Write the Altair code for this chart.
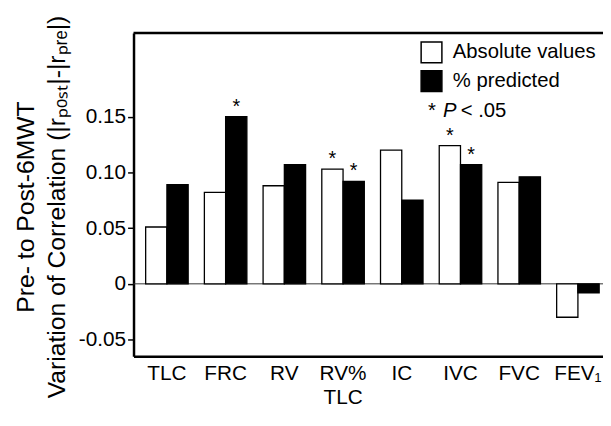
import altair as alt
import pandas as pd

categories = ["TLC", "FRC", "RV", "RV%\nTLC", "IC", "IVC", "FVC", "FEV₁"]
series_names = ["Absolute values", "% predicted"]
absolute_values = [0.051, 0.082, 0.088, 0.103, 0.120, 0.124, 0.091, -0.030]
pct_predicted = [0.089, 0.150, 0.107, 0.092, 0.075, 0.107, 0.096, -0.008]
absolute_sig = [False, False, False, True, False, True, False, False]
pct_sig = [False, True, False, True, False, True, False, False]
y_ticks = [-0.05, 0, 0.05, 0.10, 0.15]
y_title = ["Pre- to Post-6MWT", "Variation of Correlation (|rₚₒₛₜ|-|rₚᵣₑ|)"]

rows = []
for i, c in enumerate(categories):
    rows.append({"category": c, "series": series_names[0], "value": absolute_values[i], "sig": absolute_sig[i]})
    rows.append({"category": c, "series": series_names[1], "value": pct_predicted[i], "sig": pct_sig[i]})
df = pd.DataFrame(rows)
one = pd.DataFrame({"k": [0]})

W, H = 475, 327
FONT = "Liberation Sans"

x_enc = alt.X(
    "category:N", sort=categories,
    scale=alt.Scale(paddingInner=0.276, paddingOuter=0.136, align=0.76),
    axis=alt.Axis(title=None, labelAngle=0, ticks=False, labelExpr="split(datum.label, '\\n')",
                  labelFontSize=21, labelLineHeight=25, labelPadding=6, labelColor="black",
                  domainColor="black", domainWidth=2.5, labelFont=FONT),
)
xo_enc = alt.XOffset("series:N", sort=series_names, scale=alt.Scale(paddingInner=0, paddingOuter=0))
y_enc = alt.Y(
    "value:Q",
    scale=alt.Scale(domain=[-0.065, 0.225], nice=False, zero=False),
    axis=alt.Axis(values=y_ticks, grid=False, title=y_title, titleFontSize=25, titleLineHeight=31,
                  titleFontWeight="normal", titleColor="black", titleFont=FONT, titlePadding=9,
                  titleY=H / 2 + 12,
                  labelExpr="datum.value == 0 ? '0' : (datum.value < 0 ? '-' + format(-datum.value, '.2f') : format(datum.value, '.2f'))",
                  labelFontSize=21, labelColor="black", labelPadding=2, labelFont=FONT,
                  tickSize=6, tickWidth=1.5, tickColor="black",
                  domainColor="black", domainWidth=2.5),
)

bars = alt.Chart(df).mark_bar(stroke="black", strokeWidth=1.3).encode(
    x=x_enc, xOffset=xo_enc, y=y_enc,
    fill=alt.Fill("series:N", sort=series_names,
                  scale=alt.Scale(domain=series_names, range=["white", "black"]),
                  legend=alt.Legend(title=None, orient="none", legendX=290, legendY=8,
                                    symbolType="square", symbolSize=441, symbolStrokeColor="black",
                                    symbolStrokeWidth=1.5, labelFontSize=20.5, labelFont=FONT,
                                    labelColor="black", labelOffset=10, rowPadding=2, padding=0)),
)

stars = alt.Chart(df).transform_filter("datum.sig").mark_text(
    text="*", fontSize=20, font=FONT, baseline="alphabetic", dy=-4, color="black"
).encode(x=x_enc, xOffset=xo_enc, y=alt.Y("value:Q"))

zero_line = alt.Chart(one).mark_rule(color="#333", strokeWidth=1).encode(y=alt.datum(0))
top_line = alt.Chart(one).mark_rule(color="black", strokeWidth=2.5).encode(
    y=alt.value(0), x=alt.value(0), x2=alt.value(W))

note_star = alt.Chart(one).mark_text(text="*", fontSize=20.5, font=FONT, align="left",
                                     baseline="alphabetic", color="black").encode(
    x=alt.value(298), y=alt.value(85))
note_p = alt.Chart(one).mark_text(text="P", fontSize=20.5, font=FONT, fontStyle="italic", align="left",
                                  baseline="alphabetic", color="black").encode(
    x=alt.value(313), y=alt.value(85))
note_rest = alt.Chart(one).mark_text(text="< .05", fontSize=20.5, font=FONT, align="left",
                                     baseline="alphabetic", color="black").encode(
    x=alt.value(331), y=alt.value(85))

chart = alt.layer(zero_line, bars, stars, top_line, note_star, note_p, note_rest).properties(
    width=W, height=H,
    autosize=alt.AutoSizeParams(type="none"),
    padding={"left": 127, "top": 23, "right": 0, "bottom": 53},
    background="white",
).configure_view(stroke=None).configure(font=FONT)

chart.save("out.html", embed_options={"renderer": "svg", "actions": False})
